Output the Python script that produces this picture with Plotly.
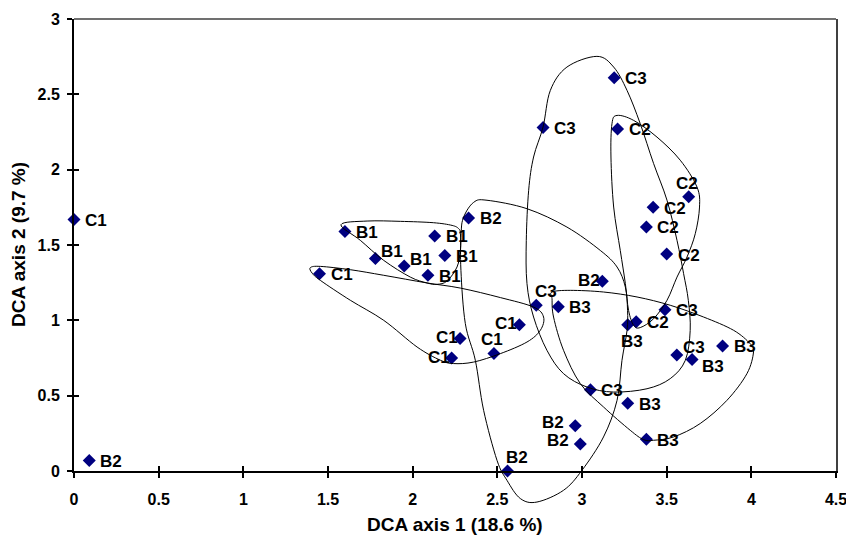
import plotly.graph_objects as go

# ---- data ----
x_vals = [0.00, 0.09, 1.60, 1.78, 1.95, 2.09, 2.13, 2.19, 2.33, 1.45,
          2.28, 2.23, 2.48, 2.63, 2.73, 2.86, 2.56, 2.96, 2.99, 3.12,
          3.05, 3.27, 3.38, 3.27, 3.32, 3.49, 3.56, 3.65, 3.83, 3.50,
          3.19, 3.21, 3.63, 3.42, 3.38, 2.77]
y_vals = [1.67, 0.07, 1.59, 1.41, 1.36, 1.30, 1.56, 1.43, 1.68, 1.31,
          0.88, 0.75, 0.78, 0.97, 1.10, 1.09, 0.00, 0.30, 0.18, 1.26,
          0.54, 0.45, 0.21, 0.97, 0.99, 1.07, 0.77, 0.74, 0.83, 1.44,
          2.61, 2.27, 1.82, 1.75, 1.62, 2.28]
labels = ["C1", "B2", "B1", "B1", "B1", "B1", "B1", "B1", "B2", "C1",
          "C1", "C1", "C1", "C1", "C3", "B3", "B2", "B2", "B2", "B2",
          "C3", "B3", "B3", "B3", "C2", "C3", "C3", "B3", "B3", "C2",
          "C3", "C2", "C2", "C2", "C2", "C3"]
# label placement keyword per point (r=right, l=left, lc=left close, t=top,
# tr=top right, ru=right raised, rd=right lowered, b=below)
label_pos = ["r", "r", "r", "ru", "ru", "r", "r", "r", "r", "r",
             "lc", "lc", "t", "lc", "tr", "r", "tr", "l", "l", "lc",
             "r", "r", "r", "b", "r", "r", "ru", "rd", "r", "r",
             "r", "r", "t", "r", "r", "r"]

x_ticks = [0, 0.5, 1, 1.5, 2, 2.5, 3, 3.5, 4, 4.5]
y_ticks = [0, 0.5, 1, 1.5, 2, 2.5, 3]
x_range = [0, 4.5]
y_range = [0, 3]
x_title = "DCA axis 1 (18.6 %)"
y_title = "DCA axis 2 (9.7 %)"

# hand-drawn group outlines (data units)
loop_b1_x = [1.577, 1.731, 1.927, 2.122, 2.233, 2.272, 2.282, 2.282, 2.262, 2.203,
             2.144, 2.085, 1.986, 1.829, 1.691]
loop_b1_y = [1.635, 1.659, 1.657, 1.648, 1.630, 1.608, 1.575, 1.465, 1.354, 1.261,
             1.239, 1.248, 1.287, 1.398, 1.531]
loop_c1_x = [1.396, 1.455, 1.632, 1.829, 2.085, 2.282, 2.518, 2.714, 2.773, 2.754,
             2.675, 2.518, 2.360, 2.242, 2.164, 2.026, 1.829, 1.632, 1.455, 1.406]
loop_c1_y = [1.350, 1.358, 1.336, 1.299, 1.248, 1.214, 1.151, 1.088, 1.022, 0.934,
             0.856, 0.779, 0.723, 0.713, 0.735, 0.823, 1.000, 1.133, 1.265, 1.314]
loop_b2_x = [2.439, 2.675, 2.911, 3.108, 3.207, 3.256, 3.269, 3.266, 3.236, 3.207,
             3.127, 3.000, 2.891, 2.734, 2.636, 2.557, 2.498, 2.419, 2.370, 2.311,
             2.285, 2.286, 2.301, 2.360]
loop_b2_y = [1.797, 1.741, 1.619, 1.464, 1.354, 1.221, 1.066, 0.933, 0.734, 0.469,
             0.226, 0.005, -0.128, -0.206, -0.183, -0.062, 0.071, 0.403, 0.735, 0.978,
             1.332, 1.575, 1.685, 1.783]
loop_c3_x = [3.088, 3.187, 3.266, 3.344, 3.423, 3.502, 3.561, 3.600, 3.628, 3.639,
             3.610, 3.521, 3.384, 3.187, 3.030, 2.891, 2.793, 2.714, 2.675, 2.671,
             2.685, 2.714, 2.770, 2.813, 2.911]
loop_c3_y = [2.752, 2.681, 2.526, 2.305, 2.040, 1.797, 1.531, 1.310, 1.132, 0.933,
             0.734, 0.613, 0.546, 0.524, 0.557, 0.646, 0.801, 1.022, 1.244, 1.531,
             1.863, 2.084, 2.283, 2.526, 2.681]
loop_c2_x = [3.207, 3.305, 3.443, 3.580, 3.679, 3.694, 3.669, 3.620, 3.561, 3.502,
             3.423, 3.344, 3.305, 3.275, 3.256, 3.226, 3.187, 3.171, 3.177]
loop_c2_y = [2.360, 2.327, 2.216, 2.063, 1.885, 1.752, 1.575, 1.420, 1.287, 1.133,
             1.011, 0.952, 0.967, 1.066, 1.244, 1.464, 1.752, 2.084, 2.305]
loop_b3_x = [2.823, 2.931, 3.127, 3.325, 3.521, 3.718, 3.895, 3.993, 4.013, 3.974,
             3.856, 3.698, 3.541, 3.423, 3.364, 3.285, 3.127, 2.990, 2.891, 2.832,
             2.823]
loop_b3_y = [1.188, 1.199, 1.188, 1.155, 1.100, 1.022, 0.934, 0.845, 0.790, 0.646,
             0.469, 0.315, 0.226, 0.204, 0.208, 0.270, 0.425, 0.580, 0.801, 1.022,
             1.144]

loops = [(loop_b1_x, loop_b1_y), (loop_c1_x, loop_c1_y), (loop_b2_x, loop_b2_y),
         (loop_c3_x, loop_c3_y), (loop_c2_x, loop_c2_y), (loop_b3_x, loop_b3_y)]

FONT = "Liberation Sans, Arial, sans-serif"

# placement keyword -> (xanchor, yanchor, xshift, yshift) in pixels
PLACEMENT = {
    "r": ("left", "middle", 10, -1),
    "ru": ("left", "middle", 5, 7),
    "rd": ("left", "middle", 9, -7),
    "l": ("right", "middle", -10, 3),
    "lc": ("right", "middle", -1, 1),
    "t": ("center", "bottom", -2, 3),
    "tr": ("left", "bottom", -2, 3),
    "b": ("center", "top", 4, -6),
}


def to_paper_y(v):
    return (v - y_range[0]) / (y_range[1] - y_range[0])


def closed_spline_path(xs, ys):
    pts = [(x, to_paper_y(y)) for x, y in zip(xs, ys)]
    n = len(pts)
    d = "M{:.5f},{:.5f}".format(*pts[0])
    for i in range(n):
        p0 = pts[i - 1]
        p1 = pts[i]
        p2 = pts[(i + 1) % n]
        p3 = pts[(i + 2) % n]
        c1 = (p1[0] + (p2[0] - p0[0]) / 6, p1[1] + (p2[1] - p0[1]) / 6)
        c2 = (p2[0] - (p3[0] - p1[0]) / 6, p2[1] - (p3[1] - p1[1]) / 6)
        d += " C{:.5f},{:.5f} {:.5f},{:.5f} {:.5f},{:.5f}".format(c1[0], c1[1], c2[0], c2[1], p2[0], p2[1])
    return d + " Z"


fig = go.Figure()

fig.add_trace(go.Scatter(
    x=x_vals, y=y_vals, mode="markers",
    marker=dict(symbol="diamond", size=10, color="#000080"),
    cliponaxis=False, showlegend=False, hoverinfo="skip",
))
# empty traces to activate the overlay axes (inside tick marks, right frame edge)
fig.add_trace(go.Scatter(x=[], y=[], xaxis="x2", yaxis="y", showlegend=False))
fig.add_trace(go.Scatter(x=[], y=[], xaxis="x", yaxis="y2", showlegend=False))
fig.add_trace(go.Scatter(x=[], y=[], xaxis="x", yaxis="y3", showlegend=False))

label_font = dict(family=FONT, size=17, color="black", weight="bold")
annotations = []
for xv, yv, lab, pos in zip(x_vals, y_vals, labels, label_pos):
    xa, ya, dx, dy = PLACEMENT[pos]
    annotations.append(dict(x=xv, y=yv, xref="x", yref="y", text=lab, showarrow=False,
                            xanchor=xa, yanchor=ya, xshift=dx, yshift=dy,
                            font=label_font, borderpad=0))

title_font = dict(family=FONT, size=19, color="black", weight="bold")
annotations.append(dict(x=0.5, y=0, xref="paper", yref="paper", text=x_title,
                        showarrow=False, xanchor="center", yanchor="middle",
                        yshift=-53, font=title_font))
annotations.append(dict(x=0, y=0.5, xref="paper", yref="paper", text=y_title,
                        showarrow=False, xanchor="center", yanchor="middle",
                        xshift=-56, textangle=-90, font=title_font))

shapes = []
for lx, ly in loops:
    shapes.append(dict(type="path", xref="x", yref="paper",
                       path=closed_spline_path(lx, ly),
                       line=dict(color="black", width=1), layer="above"))
# plot-area frame: top edge
shapes.append(dict(type="line", xref="paper", yref="paper", x0=0, x1=1, y0=1, y1=1,
                   line=dict(color="#404040", width=1.5), layer="above"))

axis_common = dict(showgrid=False, zeroline=False, showline=True, linecolor="black",
                   linewidth=2, ticks="outside", ticklen=5, tickwidth=1.5, tickcolor="black",
                   automargin=False, ticklabeloverflow="allow",
                   tickfont=dict(family=FONT, size=16, color="black", weight="bold"))

fig.update_layout(
    width=846, height=536,
    margin=dict(l=74, r=10, t=19, b=65),
    paper_bgcolor="white", plot_bgcolor="white",
    shapes=shapes, annotations=annotations,
    xaxis=dict(range=x_range, tickvals=x_ticks, ticktext=[f"{v:g}" for v in x_ticks],
               ticklabelstandoff=8, **axis_common),
    yaxis=dict(range=y_range, tickvals=y_ticks, ticktext=[f"{v:g}" for v in y_ticks],
               ticklabelstandoff=4, **axis_common),
    xaxis2=dict(range=x_range, overlaying="x", anchor="y", side="bottom",
                tickvals=x_ticks, showticklabels=False, ticks="inside", ticklen=5,
                tickwidth=1.5, tickcolor="black", showgrid=False, zeroline=False,
                showline=False, automargin=False),
    yaxis2=dict(range=y_range, overlaying="y", anchor="x", side="left",
                tickvals=y_ticks, showticklabels=False, ticks="inside", ticklen=5,
                tickwidth=1.5, tickcolor="black", showgrid=False, zeroline=False,
                showline=False, automargin=False),
    yaxis3=dict(range=y_range, overlaying="y", anchor="x", side="right",
                showticklabels=False, ticks="", showgrid=False, zeroline=False,
                showline=True, linecolor="#404040", linewidth=1.5, automargin=False),
)

# remove the default page margin so the 846x536 figure fills the window exactly
fig.write_html("out.html", config={"displayModeBar": False},
               post_script="document.body.style.margin='0';document.body.style.overflow='hidden';")
